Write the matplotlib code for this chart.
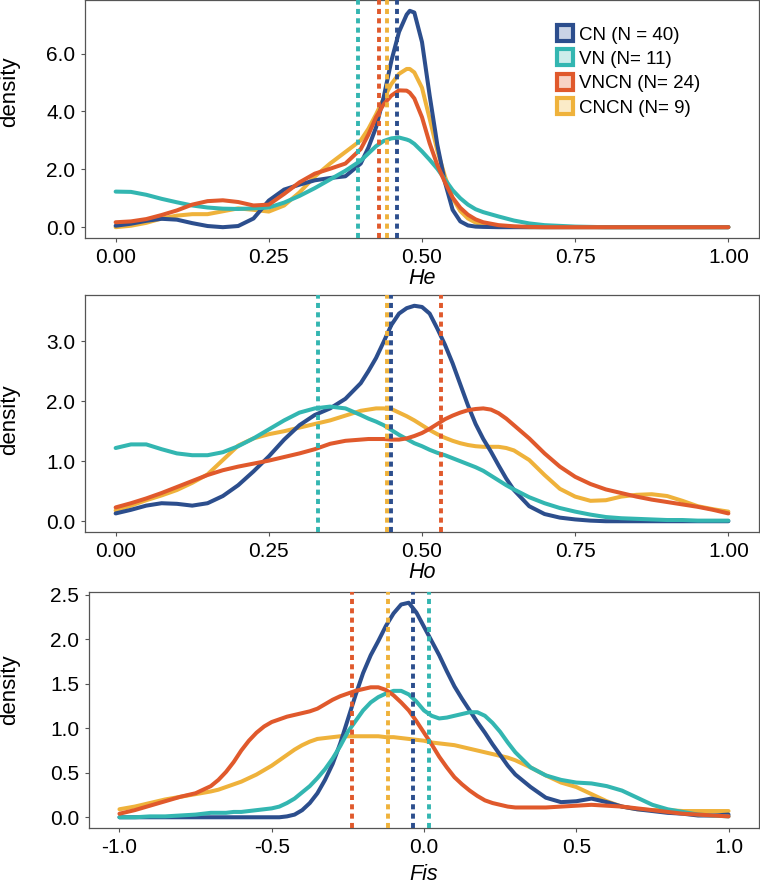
"""Density curves of He, Ho and Fis for four population groups."""

import matplotlib

matplotlib.use("Agg")
import matplotlib.pyplot as plt
from matplotlib.lines import Line2D

plt.rcParams["font.family"] = ["Liberation Sans", "DejaVu Sans"]

GROUPS = ["CN", "VN", "VNCN", "CNCN"]
LABELS = ["CN (N = 40)", "VN (N= 11)", "VNCN (N= 24)", "CNCN (N= 9)"]
COLORS = {"CN": "#2C4E8D", "VN": "#33B6B1", "VNCN": "#E0592C", "CNCN": "#EFB23B"}
LEGEND_FILL = {"CN": "#C9D3E6", "VN": "#CDEDEB", "VNCN": "#F7D3C4", "CNCN": "#FBEBC8"}
DRAW_ORDER = ["CNCN", "CN", "VN", "VNCN"]

# --- He -------------------------------------------------------------------
he_x = [0, 0.025, 0.05, 0.075, 0.1, 0.125, 0.15, 0.175, 0.2, 0.225, 0.25, 0.275,
        0.3, 0.325, 0.35, 0.375,
        0.4, 0.4125, 0.425, 0.4375, 0.45, 0.4625, 0.475, 0.48, 0.4875, 0.5, 0.5125,
        0.525, 0.5375, 0.55, 0.5625, 0.575, 0.5875, 0.6,
        0.625, 0.65, 0.675, 0.7, 0.75, 0.8, 0.9, 1.0]
he_cn = [0.05, 0.12, 0.22, 0.29, 0.26, 0.14, 0.04, 0.0, 0.04, 0.3, 0.92, 1.3,
         1.47, 1.62, 1.7, 1.76,
         2.2, 2.75, 3.45, 4.5, 5.75, 6.75, 7.35, 7.48, 7.42, 6.4, 4.55,
         2.85, 1.55, 0.6, 0.2, 0.06, 0.02, 0.01,
         0, 0, 0, 0, 0, 0, 0, 0]
he_vn = [1.23, 1.22, 1.12, 0.98, 0.86, 0.75, 0.68, 0.64, 0.63, 0.65, 0.68, 0.85,
         1.08, 1.35, 1.65, 1.95,
         2.3, 2.55, 2.8, 2.98, 3.07, 3.1, 3.03, 2.99, 2.88, 2.62, 2.33,
         2.02, 1.65, 1.28, 1.0, 0.78, 0.62, 0.52,
         0.37, 0.23, 0.13, 0.07, 0.02, 0.0, 0, 0]
he_vncn = [0.17, 0.2, 0.28, 0.42, 0.58, 0.78, 0.9, 0.93, 0.87, 0.75, 0.78, 1.15,
           1.55, 1.85, 2.02, 2.2,
           2.7, 3.2, 3.8, 4.25, 4.55, 4.73, 4.72, 4.65, 4.45, 3.8, 2.9,
           2.15, 1.55, 1.02, 0.67, 0.43, 0.27, 0.17,
           0.07, 0.03, 0.01, 0, 0, 0, 0, 0]
he_cncn = [0.0, 0.05, 0.15, 0.3, 0.4, 0.45, 0.45, 0.55, 0.65, 0.6, 0.54, 0.75,
           1.2, 1.75, 2.2, 2.6,
           3.0, 3.4, 3.9, 4.45, 4.95, 5.3, 5.47, 5.47, 5.35, 4.82, 3.75,
           2.65, 1.75, 1.0, 0.56, 0.3, 0.16, 0.09,
           0.03, 0.01, 0, 0, 0, 0, 0, 0]

# --- Ho -------------------------------------------------------------------
ho_x = [0, 0.025, 0.05, 0.075, 0.1, 0.125, 0.15, 0.175, 0.2, 0.225, 0.25, 0.275,
        0.3, 0.325, 0.35, 0.375, 0.4,
        0.4125, 0.425, 0.4375, 0.45, 0.4625, 0.475, 0.4875, 0.5, 0.5125, 0.525,
        0.5375, 0.55, 0.5625, 0.575, 0.5875, 0.6, 0.6125, 0.625, 0.6375, 0.65,
        0.675, 0.7, 0.725, 0.75, 0.775, 0.8, 0.825, 0.85, 0.875, 0.9, 0.925, 0.95,
        0.975, 1.0]
ho_cn = [0.13, 0.19, 0.26, 0.3, 0.29, 0.26, 0.3, 0.42, 0.6, 0.83, 1.08, 1.36,
         1.6, 1.77, 1.88, 2.04, 2.3,
         2.5, 2.72, 2.99, 3.27, 3.46, 3.55, 3.59, 3.57, 3.46, 3.21,
         2.94, 2.63, 2.28, 1.93, 1.62, 1.37, 1.16, 0.93, 0.71, 0.52,
         0.25, 0.12, 0.06, 0.03, 0.01, 0, 0, 0, 0, 0, 0, 0,
         0, 0]
ho_vn = [1.22, 1.28, 1.28, 1.2, 1.13, 1.1, 1.1, 1.15, 1.25, 1.38, 1.53, 1.68,
         1.81, 1.88, 1.91, 1.88, 1.77,
         1.71, 1.66, 1.6, 1.52, 1.44, 1.37, 1.3, 1.25, 1.19, 1.14,
         1.1, 1.05, 1.0, 0.95, 0.9, 0.84, 0.76, 0.68, 0.6, 0.53,
         0.4, 0.3, 0.22, 0.16, 0.11, 0.07, 0.05, 0.04, 0.03, 0.02, 0.02, 0.01,
         0.01, 0.01]
ho_vncn = [0.23, 0.3, 0.38, 0.47, 0.57, 0.67, 0.77, 0.85, 0.91, 0.96, 1.01, 1.07,
           1.13, 1.2, 1.29, 1.34, 1.36,
           1.37, 1.37, 1.37, 1.36, 1.36, 1.38, 1.42, 1.47, 1.54, 1.62,
           1.7, 1.76, 1.81, 1.85, 1.87, 1.88, 1.86, 1.8, 1.71, 1.6,
           1.38, 1.13, 0.91, 0.74, 0.62, 0.53, 0.47, 0.41, 0.36, 0.32, 0.28, 0.24,
           0.19, 0.13]
ho_cncn = [0.18, 0.26, 0.35, 0.43, 0.52, 0.64, 0.78, 1.02, 1.26, 1.38, 1.45, 1.5,
           1.56, 1.62, 1.68, 1.76, 1.84,
           1.86, 1.88, 1.88, 1.87, 1.81, 1.75, 1.68, 1.6, 1.52, 1.45,
           1.39, 1.34, 1.3, 1.27, 1.25, 1.24, 1.24, 1.24, 1.22, 1.18,
           1.02, 0.77, 0.54, 0.41, 0.34, 0.35, 0.41, 0.44, 0.45, 0.42, 0.34, 0.25,
           0.2, 0.16]

# --- Fis ------------------------------------------------------------------
fis_x = [-1.0, -0.95, -0.9, -0.85, -0.8, -0.75, -0.7,
         -0.675, -0.65, -0.625, -0.6, -0.575, -0.55, -0.525, -0.5, -0.475,
         -0.45, -0.425, -0.4, -0.375, -0.35, -0.325, -0.3, -0.275, -0.25,
         -0.225, -0.2, -0.175, -0.15, -0.125, -0.1, -0.075, -0.05, -0.025,
         0.0, 0.025, 0.05, 0.075, 0.1, 0.125, 0.15, 0.175, 0.2, 0.225, 0.25,
         0.275, 0.3,
         0.35, 0.4, 0.45, 0.5, 0.55, 0.6, 0.65, 0.7, 0.75, 0.8, 0.85, 0.9, 0.95, 1.0]
fis_cn = [0, 0, 0, 0, 0, 0, 0,
          0, 0, 0, 0, 0, 0, 0, 0, 0,
          0.01, 0.03, 0.08, 0.16, 0.27, 0.42, 0.6, 0.83, 1.1,
          1.37, 1.62, 1.82, 1.98, 2.15, 2.29, 2.39, 2.41, 2.3,
          2.14, 1.98, 1.82, 1.64, 1.47, 1.33, 1.2, 1.07, 0.95, 0.82, 0.7,
          0.58, 0.48,
          0.34, 0.22, 0.17, 0.18, 0.21, 0.17, 0.12, 0.09, 0.07, 0.05, 0.04, 0.02, 0.02, 0.03]
fis_vn = [0, 0, 0.01, 0.01, 0.02, 0.03, 0.05,
          0.05, 0.05, 0.06, 0.06, 0.07, 0.08, 0.09, 0.1, 0.12,
          0.16, 0.21, 0.28, 0.35, 0.44, 0.54, 0.66, 0.8, 0.96,
          1.08, 1.2, 1.29, 1.35, 1.39, 1.42, 1.42, 1.38, 1.3,
          1.2, 1.14, 1.11, 1.12, 1.14, 1.16, 1.18, 1.18, 1.14, 1.06, 0.96,
          0.84, 0.73,
          0.56, 0.47, 0.42, 0.39, 0.38, 0.35, 0.3, 0.22, 0.14, 0.09, 0.06, 0.03, 0.02, 0.01]
fis_vncn = [0.04, 0.08, 0.13, 0.18, 0.23, 0.27, 0.35,
            0.42, 0.51, 0.62, 0.75, 0.86, 0.95, 1.02, 1.07, 1.1,
            1.13, 1.15, 1.17, 1.19, 1.22, 1.27, 1.32, 1.36, 1.39,
            1.42, 1.44, 1.46, 1.46, 1.43, 1.37, 1.29, 1.2, 1.08,
            0.95, 0.82, 0.68, 0.56, 0.45, 0.37, 0.3, 0.24, 0.19, 0.16, 0.14,
            0.12, 0.11,
            0.11, 0.11, 0.12, 0.13, 0.14, 0.13, 0.12, 0.1, 0.08, 0.06, 0.04, 0.03, 0.02, 0.01]
fis_cncn = [0.09, 0.12, 0.16, 0.2, 0.23, 0.26, 0.29,
            0.31, 0.34, 0.37, 0.4, 0.44, 0.48, 0.53, 0.58, 0.64,
            0.7, 0.76, 0.81, 0.85, 0.88, 0.89, 0.9, 0.91, 0.91,
            0.91, 0.91, 0.91, 0.91, 0.9, 0.9, 0.89, 0.88, 0.87,
            0.86, 0.84, 0.83, 0.82, 0.81, 0.79, 0.77, 0.75, 0.73, 0.71, 0.69,
            0.67, 0.64,
            0.56, 0.47, 0.39, 0.34, 0.26, 0.18, 0.12, 0.09, 0.08, 0.08, 0.07, 0.07, 0.07, 0.07]

# group means (dashed lines), in GROUPS order
he_mean = [0.460, 0.396, 0.430, 0.443]
ho_mean = [0.450, 0.331, 0.531, 0.443]
fis_mean = [-0.035, 0.016, -0.237, -0.117]

he_xticks = [0.0, 0.25, 0.5, 0.75, 1.0]
he_xticklabels = ["0.00", "0.25", "0.50", "0.75", "1.00"]
he_yticks = [0, 2, 4, 6]
he_yticklabels = ["0.0", "2.0", "4.0", "6.0"]
ho_yticks = [0, 1, 2, 3]
ho_yticklabels = ["0.0", "1.0", "2.0", "3.0"]
fis_xticks = [-1.0, -0.5, 0.0, 0.5, 1.0]
fis_xticklabels = ["-1.0", "-0.5", "0.0", "0.5", "1.0"]
fis_yticks = [0, 0.5, 1.0, 1.5, 2.0, 2.5]
fis_yticklabels = ["0.0", "0.5", "1.0", "1.5", "2.0", "2.5"]

PANELS = [
    dict(xlabel="He", x=he_x, ys=[he_cn, he_vn, he_vncn, he_cncn], means=he_mean,
         xlim=(-0.05, 1.05), xticks=he_xticks, xticklabels=he_xticklabels,
         yticks=he_yticks, yticklabels=he_yticklabels,
         rect=(85, 0, 759, 238), ylab_y=92, xlab_y=279, legend=True),
    dict(xlabel="Ho", x=ho_x, ys=[ho_cn, ho_vn, ho_vncn, ho_cncn], means=ho_mean,
         xlim=(-0.05, 1.05), xticks=he_xticks, xticklabels=he_xticklabels,
         yticks=ho_yticks, yticklabels=ho_yticklabels,
         rect=(85, 295, 759, 532), ylab_y=420, xlab_y=573, legend=False),
    dict(xlabel="Fis", x=fis_x, ys=[fis_cn, fis_vn, fis_vncn, fis_cncn], means=fis_mean,
         xlim=(-1.1, 1.1), xticks=fis_xticks, xticklabels=fis_xticklabels,
         yticks=fis_yticks, yticklabels=fis_yticklabels,
         rect=(89, 592, 759, 828), ylab_y=690, xlab_y=874, legend=False),
]

W, H = 760, 884
SPINE = "#555555"

fig = plt.figure(figsize=(W / 100, H / 100), dpi=100)

for p in PANELS:
    for ys in p["ys"]:
        assert len(ys) == len(p["x"]), (p["xlabel"], len(ys), len(p["x"]))

    l, t, r, b = p["rect"]
    ax = fig.add_axes([l / W, 1 - b / H, (r - l) / W, (b - t) / H])
    series = dict(zip(GROUPS, p["ys"]))
    means = dict(zip(GROUPS, p["means"]))

    for g in DRAW_ORDER:
        ax.plot(p["x"], series[g], color=COLORS[g], lw=2.9, solid_capstyle="round",
                solid_joinstyle="round", zorder=2)
    for g in ["VN", "VNCN", "CNCN", "CN"]:
        ax.axvline(means[g], color=COLORS[g], lw=2.8, dashes=(1.3, 1.1), zorder=3)

    ymax = max(max(v) for v in p["ys"])
    ax.set_ylim(-0.05 * ymax, 1.05 * ymax)
    ax.set_xlim(*p["xlim"])
    ax.set_xticks(p["xticks"])
    ax.set_xticklabels(p["xticklabels"])
    ax.set_yticks(p["yticks"])
    ax.set_yticklabels(p["yticklabels"])
    ax.tick_params(labelsize=15, length=3, width=0.8, color=SPINE, pad=4,
                   labelcolor="black")
    for s in ax.spines.values():
        s.set_color(SPINE)
        s.set_linewidth(0.9)

    fig.text(10 / W, 1 - p["ylab_y"] / H, "density", rotation=90, fontsize=16,
             ha="center", va="center")
    fig.text(((l + r) / 2) / W, 1 - p["xlab_y"] / H, p["xlabel"], fontsize=15.5,
             style="italic", ha="center", va="center")

    if p["legend"]:
        handles = [Line2D([], [], ls="none", marker="s", markersize=11.5,
                          markerfacecolor=LEGEND_FILL[g], markeredgecolor=COLORS[g],
                          markeredgewidth=3.0) for g in GROUPS]
        ax.legend(handles, LABELS, loc="upper left", bbox_to_anchor=(0.701, 0.888),
                  frameon=False, fontsize=13.5, handlelength=0.8, handletextpad=0.35,
                  labelspacing=0.38, borderpad=0, borderaxespad=0)

fig.savefig("out.png", dpi=100)
